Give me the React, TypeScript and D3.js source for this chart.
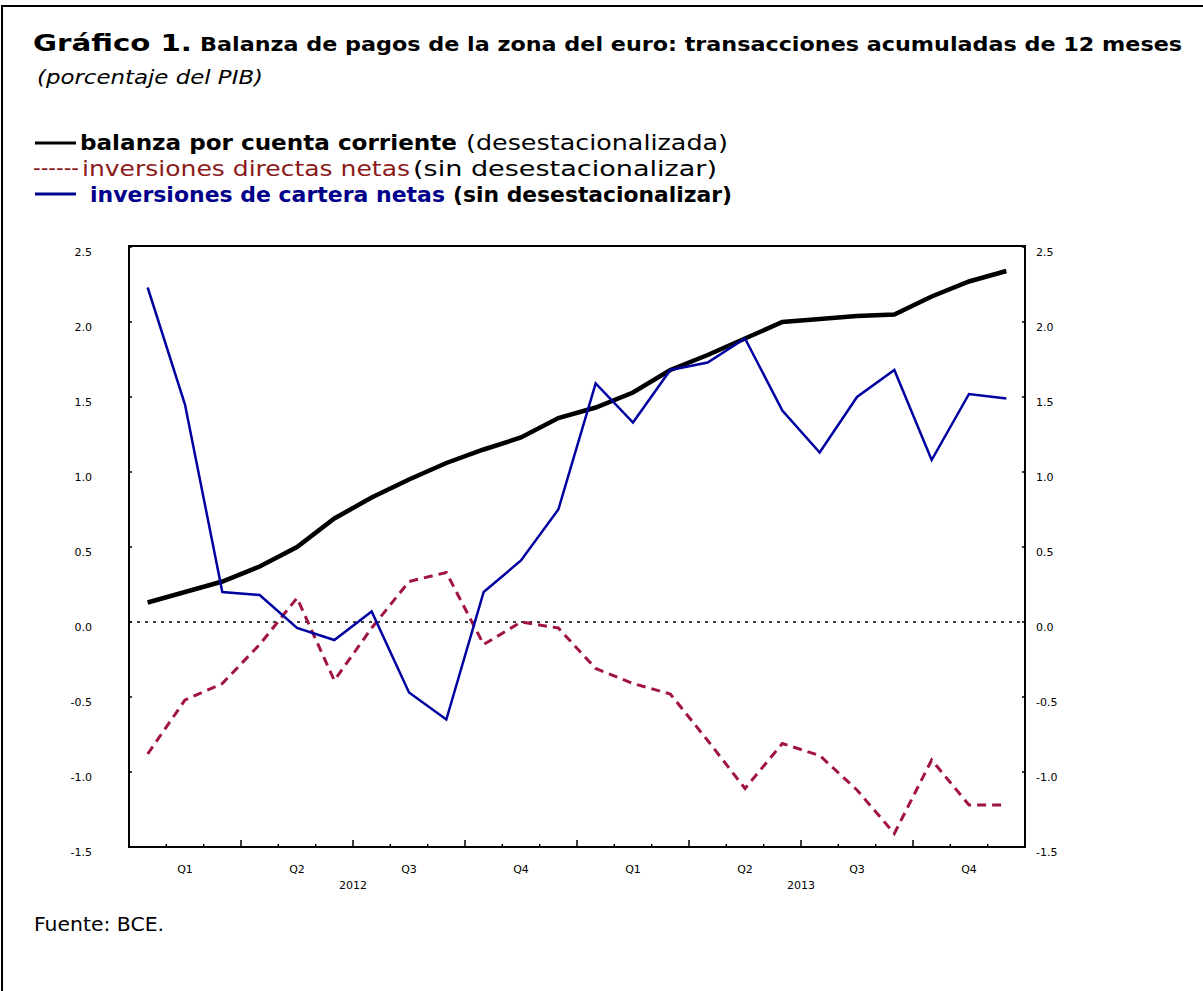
import React from "react";
import * as d3 from "d3";

const months = [
  "2012-01","2012-02","2012-03","2012-04","2012-05","2012-06",
  "2012-07","2012-08","2012-09","2012-10","2012-11","2012-12",
  "2013-01","2013-02","2013-03","2013-04","2013-05","2013-06",
  "2013-07","2013-08","2013-09","2013-10","2013-11","2013-12",
];
const currentAccount = [0.13,0.20,0.27,0.37,0.50,0.69,0.83,0.95,1.06,1.15,1.23,1.36,1.43,1.53,1.68,1.78,1.89,2.00,2.02,2.04,2.05,2.17,2.27,2.34];
const directInvestment = [-0.88,-0.52,-0.41,-0.15,0.16,-0.39,-0.04,0.27,0.33,-0.15,0.0,-0.04,-0.31,-0.41,-0.48,-0.79,-1.11,-0.81,-0.89,-1.12,-1.41,-0.92,-1.22,-1.22];
const portfolioInvestment = [2.23,1.45,0.20,0.18,-0.04,-0.12,0.07,-0.47,-0.65,0.20,0.41,0.75,1.59,1.33,1.68,1.73,1.89,1.41,1.13,1.50,1.68,1.08,1.52,1.49];
const yTicks = [-1.5,-1.0,-0.5,0.0,0.5,1.0,1.5,2.0,2.5];
const quarterLabels = ["Q1","Q2","Q3","Q4","Q1","Q2","Q3","Q4"];
const yearLabels = ["2012","2013"];

const L = 129, R = 1025, T = 247, B = 847;
const FONT = "'DejaVu Sans', sans-serif";
const TICKFONT = "'DejaVu Sans', sans-serif";

export default function App() {
  const x = d3.scaleBand<string>().domain(months).range([L, R]).paddingInner(0).paddingOuter(0);
  const y = d3.scaleLinear().domain([-1.5, 2.5]).range([B, T]);
  const cx = (m: string) => (x(m) as number) + x.bandwidth() / 2;
  const line = d3.line<number>().x((_, i) => cx(months[i])).y((v) => y(v));
  const bw = x.bandwidth();

  return (
    <svg width={1203} height={991} style={{ position: "absolute", left: 0, top: 0, background: "#fff" }}>
      <rect x={0} y={0} width={1203} height={991} fill="#fff" />
      <rect x={2} y={6} width={1230} height={1010} fill="none" stroke="#000" strokeWidth={2} />

      {/* Title */}
      <text x={33} y={51} fontFamily={FONT} fontWeight="bold" fontSize={23} textLength={159} lengthAdjust="spacingAndGlyphs">Gráfico 1.</text>
      <text x={200} y={51} fontFamily={FONT} fontWeight="bold" fontSize={20} textLength={982} lengthAdjust="spacingAndGlyphs">Balanza de pagos de la zona del euro: transacciones acumuladas de 12 meses</text>
      <text x={37} y={84} fontFamily={FONT} fontStyle="italic" fontSize={20} textLength={226} lengthAdjust="spacingAndGlyphs">(porcentaje del PIB)</text>

      {/* Legend */}
      <line x1={35} x2={76} y1={143} y2={143} stroke="#000" strokeWidth={3} />
      <text x={80} y={150} fontFamily={FONT} fontWeight="bold" fontSize={20.5} textLength={377} lengthAdjust="spacingAndGlyphs">balanza por cuenta corriente</text>
      <text x={466} y={150} fontFamily={FONT} fontSize={20.5} textLength={262} lengthAdjust="spacingAndGlyphs">(desestacionalizada)</text>

      <text x={33} y={175} fontFamily={FONT} fontSize={20.5} fill="#8B1A1A" textLength={46} lengthAdjust="spacingAndGlyphs">------</text>
      <text x={82} y={176} fontFamily={FONT} fontSize={20.5} fill="#8B1A1A" textLength={328} lengthAdjust="spacingAndGlyphs">inversiones directas netas</text>
      <text x={413} y={176} fontFamily={FONT} fontSize={20.5} textLength={304} lengthAdjust="spacingAndGlyphs">(sin desestacionalizar)</text>

      <line x1={35} x2={76} y1={194} y2={194} stroke="#00008B" strokeWidth={3} />
      <text x={90} y={202} fontFamily={FONT} fontWeight="bold" fontSize={20.5} fill="#00008B" textLength={355} lengthAdjust="spacingAndGlyphs">inversiones de cartera netas</text>
      <text x={453} y={202} fontFamily={FONT} fontWeight="bold" fontSize={20.5} textLength={279} lengthAdjust="spacingAndGlyphs">(sin desestacionalizar)</text>

      {/* Plot frame */}
      <rect x={L} y={T - 1} width={R - L} height={B - T + 1} fill="none" stroke="#000" strokeWidth={2} />

      {/* Y ticks and labels */}
      {yTicks.map((t) => (
        <g key={"yt" + t}>
          <line x1={L} x2={L + 3} y1={y(t)} y2={y(t)} stroke="#000" strokeWidth={1.5} />
          <line x1={R - 3} x2={R} y1={y(t)} y2={y(t)} stroke="#000" strokeWidth={1.5} />
          <text x={92} y={y(t) + 9} textAnchor="end" fontFamily={TICKFONT} fontSize={11}>{t.toFixed(1)}</text>
          <text x={1036} y={y(t) + 9} textAnchor="start" fontFamily={TICKFONT} fontSize={11}>{t.toFixed(1)}</text>
        </g>
      ))}

      {/* X ticks */}
      {months.map((m, i) => {
        const xv = x(m) as number;
        if (i === 0) return null;
        const major = i % 3 === 0;
        return <line key={"xt" + m} x1={xv} x2={xv} y1={B} y2={B - (major ? 7 : 3)} stroke="#000" strokeWidth={1.5} />;
      })}
      {quarterLabels.map((q, i) => {
        const mid = (x(months[i * 3]) as number) + bw * 1.5;
        return <text key={"q" + i} x={mid} y={873} textAnchor="middle" fontFamily={TICKFONT} fontSize={11}>{q}</text>;
      })}
      {yearLabels.map((yr, i) => {
        const mid = (x(months[i * 12]) as number) + bw * 6;
        return <text key={"yr" + yr} x={mid} y={889} textAnchor="middle" fontFamily={TICKFONT} fontSize={11}>{yr}</text>;
      })}

      {/* Zero line */}
      <line x1={L} x2={R} y1={y(0)} y2={y(0)} stroke="#000" strokeWidth={1.5} strokeDasharray="3,5" />

      {/* Series */}
      <path d={line(directInvestment) as string} fill="none" stroke="#A0143F" strokeWidth={3} strokeDasharray="9,6" />
      <path d={line(currentAccount) as string} fill="none" stroke="#000" strokeWidth={4.5} />
      <path d={line(portfolioInvestment) as string} fill="none" stroke="#0000A0" strokeWidth={2.5} strokeLinejoin="miter" />

      {/* Source */}
      <text x={34} y={931} fontFamily={FONT} fontSize={20} textLength={130} lengthAdjust="spacingAndGlyphs">Fuente: BCE.</text>
    </svg>
  );
}
